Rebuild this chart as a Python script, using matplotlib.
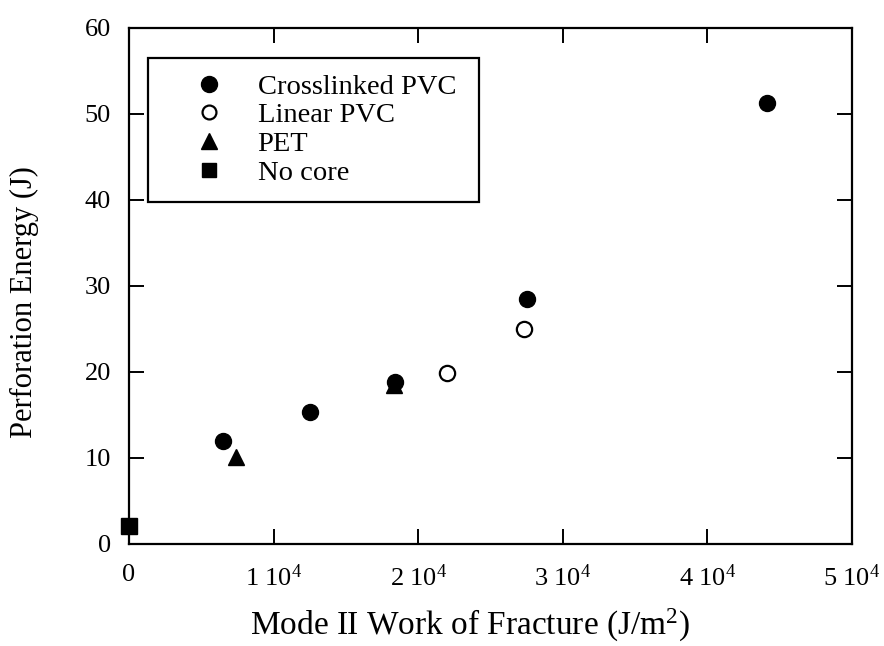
import matplotlib
matplotlib.use("Agg")
import matplotlib.pyplot as plt
from matplotlib.lines import Line2D

# ---- data ----
crosslinked_x = [6500, 12500, 18400, 27500, 44100]
crosslinked_y = [11.95, 15.3, 18.8, 28.4, 51.3]
linear_x = [22000, 27300]
linear_y = [19.8, 25.0]
pet_x = [7400, 18300]
pet_y = [10.1, 18.4]
nocore_x = [0]
nocore_y = [2.05]

series_labels = ["Crosslinked PVC", "Linear PVC", "PET", "No core"]
x_ticks = [0, 10000, 20000, 30000, 40000, 50000]
x_ticklabels = ["0", "1 10$^{4}$", "2 10$^{4}$", "3 10$^{4}$", "4 10$^{4}$", "5 10$^{4}$"]
y_ticks = [0, 10, 20, 30, 40, 50, 60]
y_ticklabels = ["0", "10", "20", "30", "40", "50", "60"]
x_label = "Mode II Work of Fracture (J/m$^{2}$)"
y_label = "Perforation Energy (J)"

plt.rcParams['font.family'] = ['Liberation Serif', 'DejaVu Serif']
plt.rcParams['mathtext.fontset'] = 'custom'
plt.rcParams['mathtext.rm'] = 'Liberation Serif'
plt.rcParams['mathtext.default'] = 'regular'

W, H = 884, 646
fig = plt.figure(figsize=(W / 100, H / 100), dpi=100)
x0, x1 = 129, 852
y0, y1 = 543.5, 28
ax = fig.add_axes([x0 / W, 1 - y0 / H, (x1 - x0) / W, (y0 - y1) / H])

ms = 11.5
ax.plot(crosslinked_x, crosslinked_y, 'o', ms=ms, mfc='black', mec='black', ls='none', clip_on=False)
ax.plot(linear_x, linear_y, 'o', ms=ms - 0.5, mfc='white', mec='black', mew=1.6, ls='none', clip_on=False)
ax.plot(pet_x, pet_y, '^', ms=ms + 0.5, mfc='black', mec='black', ls='none', clip_on=False)
ax.plot(nocore_x, nocore_y, 's', ms=ms, mfc='black', mec='black', ls='none', clip_on=False, zorder=5)

ax.set_xlim(0, 50000)
ax.set_ylim(0, 60)
ax.set_xticks(x_ticks)
ax.set_xticklabels(x_ticklabels)
ax.set_yticks(y_ticks)
ax.set_yticklabels(y_ticklabels)

for s in ax.spines.values():
    s.set_linewidth(1.6)
ax.tick_params(axis='both', which='both', direction='in', top=True, right=True,
               length=11, width=1.4, labelsize=19)
ax.tick_params(axis='x', pad=15)
ax.tick_params(axis='y', pad=13)

ax.set_xlabel(x_label, fontsize=24)
ax.set_ylabel(y_label, fontsize=22)
ax.xaxis.set_label_coords(0.472, -0.123)
ax.yaxis.set_label_coords(-0.124, 0.468)

handles = [
    Line2D([], [], marker='o', ls='none', ms=ms, mfc='black', mec='black'),
    Line2D([], [], marker='o', ls='none', ms=ms - 1.5, mfc='white', mec='black', mew=1.6),
    Line2D([], [], marker='^', ls='none', ms=ms, mfc='black', mec='black'),
    Line2D([], [], marker='s', ls='none', ms=ms - 1, mfc='black', mec='black'),
]
lx0 = (148 - x0) / (x1 - x0)
lx1 = (479 - x0) / (x1 - x0)
ly_top = (y0 - 58) / (y0 - y1)
ly_bot = (y0 - 200) / (y0 - y1)
leg = ax.legend(handles, series_labels, loc='upper left',
                bbox_to_anchor=(lx0, ly_bot, lx1 - lx0, ly_top - ly_bot),
                mode='expand', borderaxespad=0, fontsize=20.5, frameon=True,
                fancybox=False, edgecolor='black', borderpad=0.55,
                handlelength=3.2, handletextpad=0.1, labelspacing=0.1)
leg.get_frame().set_linewidth(1.6)
leg.get_frame().set_alpha(1)

fig.savefig("out.png", dpi=100)
